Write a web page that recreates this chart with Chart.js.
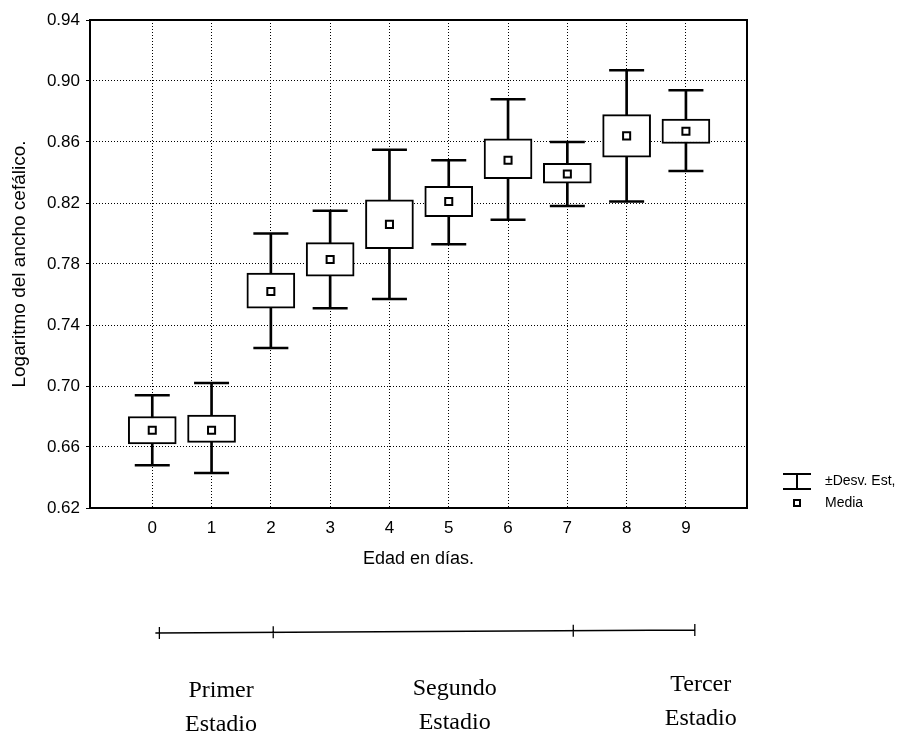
<!DOCTYPE html>
<html><head><meta charset="utf-8">
<script src="https://cdn.jsdelivr.net/npm/chart.js@4"></script>
<style>html,body{margin:0;padding:0;background:#fff;} canvas{display:block;}</style>
</head><body>
<canvas id="c" width="921" height="740"></canvas>
<script>
// ---- data ----
const days      = [0, 1, 2, 3, 4, 5, 6, 7, 8, 9];
const sdUpper   = [0.694, 0.702, 0.800, 0.815, 0.855, 0.848, 0.888, 0.860, 0.907, 0.894];
const boxUpper  = [0.680, 0.681, 0.774, 0.794, 0.822, 0.831, 0.862, 0.846, 0.878, 0.875];
const means     = [0.671, 0.671, 0.762, 0.783, 0.806, 0.821, 0.848, 0.839, 0.864, 0.867];
const boxLower  = [0.662, 0.663, 0.751, 0.772, 0.790, 0.811, 0.836, 0.833, 0.850, 0.859];
const sdLower   = [0.648, 0.643, 0.725, 0.751, 0.757, 0.793, 0.809, 0.818, 0.821, 0.841];
const yTicks    = [0.62, 0.66, 0.70, 0.74, 0.78, 0.82, 0.86, 0.90, 0.94];
const xTitle    = 'Edad en días.';
const yTitle    = 'Logaritmo del ancho cefálico.';
const legendLabels = ['±Desv. Est,', 'Media'];
const stageBounds  = [0.12, 2.04, 7.1, 9.15];
const stageCenters = [1.16, 5.1, 9.25];
const stageNames   = [['Primer', 'Estadio'], ['Segundo', 'Estadio'], ['Tercer', 'Estadio']];

const pts = arr => days.map((d, i) => ({x: d, y: arr[i]}));
const ranges = (lo, hi) => days.map((d, i) => ({x: d, y: [lo[i], hi[i]]}));

const SANS = '"Liberation Sans", Arial, sans-serif';
const SERIF = '"Liberation Serif", "Times New Roman", serif';

const extras = {
  id: 'extras',
  afterDraw(chart) {
    const {ctx, chartArea: a, scales: {x}} = chart;
    ctx.save();
    // frame
    ctx.strokeStyle = '#000'; ctx.lineWidth = 2; ctx.setLineDash([]);
    ctx.strokeRect(a.left, a.top, a.right - a.left, a.bottom - a.top);
    // legend
    const lx = a.right + 36, ly1 = a.bottom - 27, ly2 = a.bottom - 5;
    ctx.lineWidth = 2;
    ctx.beginPath();
    ctx.moveTo(lx, ly1 - 7); ctx.lineTo(lx + 28, ly1 - 7);
    ctx.moveTo(lx, ly1 + 8); ctx.lineTo(lx + 28, ly1 + 8);
    ctx.moveTo(lx + 14, ly1 - 7); ctx.lineTo(lx + 14, ly1 + 8);
    ctx.stroke();
    ctx.fillStyle = '#fff';
    ctx.fillRect(lx + 11, ly2 - 3, 6, 6);
    ctx.strokeRect(lx + 11, ly2 - 3, 6, 6);
    ctx.fillStyle = '#000';
    ctx.font = '14px ' + SANS;
    ctx.textAlign = 'left'; ctx.textBaseline = 'middle';
    ctx.fillText(legendLabels[0], lx + 42, ly1);
    ctx.fillText(legendLabels[1], lx + 42, ly2);
    // stage timeline
    const ty = a.bottom + 124;
    const px = stageBounds.map(v => x.getPixelForValue(v));
    ctx.lineWidth = 1.3;
    ctx.beginPath();
    ctx.moveTo(px[0] - 4, ty + 1); ctx.lineTo(px[px.length - 1], ty - 2);
    px.forEach((p, i) => {
      const yy = ty + 1 - 3 * (p - px[0]) / (px[px.length - 1] - px[0]);
      ctx.moveTo(p, yy - 6); ctx.lineTo(p, yy + 6);
    });
    ctx.stroke();
    // stage labels
    ctx.font = '24px ' + SERIF;
    ctx.textAlign = 'center'; ctx.textBaseline = 'alphabetic';
    const dys = [0, -2, -6];
    stageNames.forEach((lines, i) => {
      const cx = x.getPixelForValue(stageCenters[i]);
      ctx.fillText(lines[0], cx, a.bottom + 189 + dys[i]);
      ctx.fillText(lines[1], cx, a.bottom + 223 + dys[i]);
    });
    ctx.restore();
  }
};

new Chart(document.getElementById('c'), {
  type: 'bar',
  data: {
    datasets: [
      {type: 'bar', label: 'sd', data: ranges(sdLower, sdUpper), backgroundColor: '#000',
       barThickness: 2, grouped: false, order: 4},
      {type: 'bar', label: 'box', data: ranges(boxLower, boxUpper), backgroundColor: '#fff',
       borderColor: '#000', borderWidth: 2, borderSkipped: false, barThickness: 48, grouped: false, order: 3},
      {type: 'line', label: 'capU', data: pts(sdUpper), showLine: false, pointStyle: 'line',
       pointRadius: 17.5, pointBorderWidth: 2.5, borderColor: '#000', order: 2},
      {type: 'line', label: 'capL', data: pts(sdLower), showLine: false, pointStyle: 'line',
       pointRadius: 17.5, pointBorderWidth: 2.5, borderColor: '#000', order: 2},
      {type: 'line', label: 'Media', data: pts(means), showLine: false, pointStyle: 'rect',
       pointRadius: 5, pointBorderWidth: 2, borderColor: '#000', pointBackgroundColor: '#fff', order: 1}
    ]
  },
  options: {
    responsive: false, animation: false, devicePixelRatio: 1,
    layout: {padding: {left: 0, right: 174, top: 14, bottom: 170.6}},
    plugins: {legend: {display: false}, tooltip: {enabled: false}},
    scales: {
      x: {
        type: 'linear', min: -1.05, max: 10.03, offset: false,
        afterBuildTicks: s => { s.ticks = days.map(v => ({value: v})); },
        afterFit: s => { s.height = 61.4; },
        grid: {color: '#000', lineWidth: 1, drawTicks: false, offset: false},
        border: {display: false, dash: [1, 2]},
        ticks: {color: '#000', padding: 10, font: {family: SANS, size: 17}, callback: v => String(v)},
        title: {display: true, text: xTitle, color: '#000', font: {family: SANS, size: 18}, padding: 0}
      },
      y: {
        type: 'linear', min: 0.62, max: 0.94, beginAtZero: false,
        afterBuildTicks: s => { s.ticks = yTicks.map(v => ({value: v})); },
        afterFit: s => { s.width = 90; },
        grid: {color: '#000', lineWidth: 1, tickLength: 4},
        border: {display: false, dash: [1, 2]},
        ticks: {color: '#000', padding: 6, font: {family: SANS, size: 17}, callback: v => v.toFixed(2)},
        title: {display: true, text: yTitle, color: '#000', font: {family: SANS, size: 19}, padding: {top: 8, bottom: 0}}
      }
    }
  },
  plugins: [extras]
});
</script>
</body></html>
